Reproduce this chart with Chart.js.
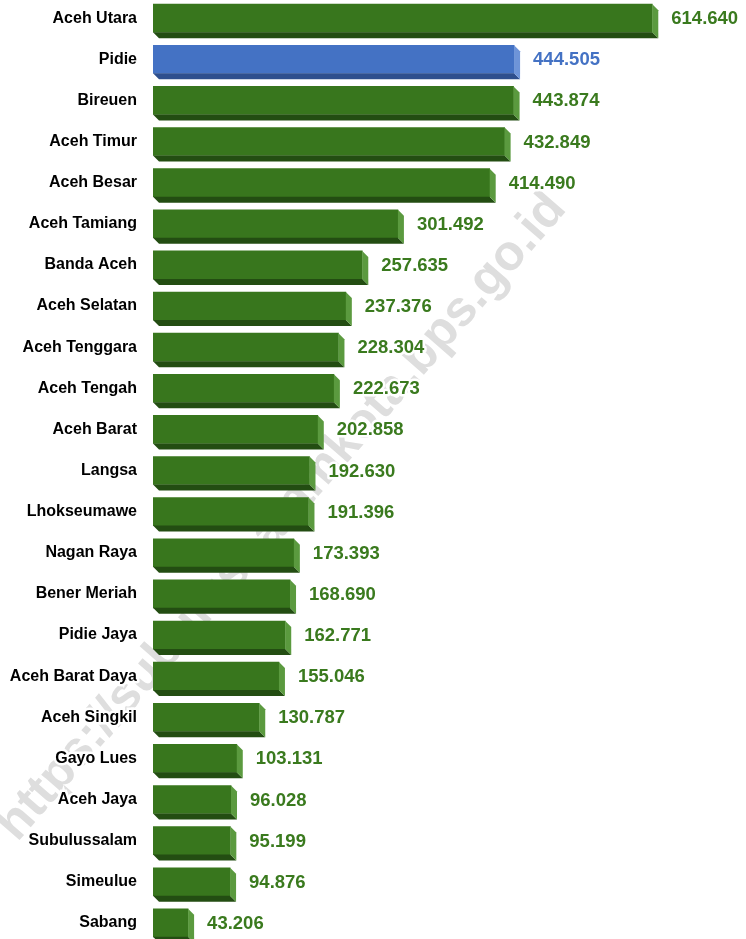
<!DOCTYPE html>
<html>
<head>
<meta charset="utf-8">
<script src="https://cdn.jsdelivr.net/npm/chart.js@4"></script>
<style>
  html, body { margin: 0; padding: 0; background: #fff; overflow: hidden; }
  #wrap { position: relative; width: 746px; height: 981px; margin-top: -20px; }
</style>
</head>
<body>
<div id="wrap"><canvas id="chart"></canvas></div>
<script>
const kabupaten = [
  'Aceh Utara', 'Pidie', 'Bireuen', 'Aceh Timur', 'Aceh Besar', 'Aceh Tamiang',
  'Banda Aceh', 'Aceh Selatan', 'Aceh Tenggara', 'Aceh Tengah', 'Aceh Barat',
  'Langsa', 'Lhokseumawe', 'Nagan Raya', 'Bener Meriah', 'Pidie Jaya',
  'Aceh Barat Daya', 'Aceh Singkil', 'Gayo Lues', 'Aceh Jaya', 'Subulussalam',
  'Simeulue', 'Sabang'
];
const penduduk = [
  614640, 444505, 443874, 432849, 414490, 301492,
  257635, 237376, 228304, 222673, 202858,
  192630, 191396, 173393, 168690, 162771,
  155046, 130787, 103131, 96028, 95199,
  94876, 43206
];
const sorotan = 'Pidie';

const hijau = { face: '#38761d', bottom: '#234d12', side: '#5b9a3f', text: '#3a7a1e' };
const biru = { face: '#4472c4', bottom: '#2e4f8e', side: '#6e94d8', text: '#4472c4' };
const warna = kabupaten.map(k => k === sorotan ? biru : hijau);

const fmt = v => v.toLocaleString('de-DE');
const DEPTH = 6;

// watermark paling belakang, sisi 3D + label nilai di depan
const bar3d = {
    id: 'bar3d',
    beforeDraw(chart) {
        const ctx = chart.ctx;
        ctx.save();
        ctx.translate(282, 537);
        ctx.rotate(-49 * Math.PI / 180);
        ctx.font = 'bold 50px "Liberation Sans", Arial, sans-serif';
        ctx.fillStyle = '#dedede';
        ctx.textAlign = 'center';
        ctx.textBaseline = 'middle';
        ctx.fillText('https://subulussalamkota.bps.go.id', 0, 0);
        ctx.restore();
    },
    afterDatasetsDraw(chart) {
        const ctx = chart.ctx;
        const meta = chart.getDatasetMeta(0);
        ctx.save();
        meta.data.forEach((el, i) => {
            const { x, y, base, height } = el.getProps(['x', 'y', 'base', 'height'], true);
            const top = y - height / 2, bot = y + height / 2;
            const c = warna[i];
            ctx.fillStyle = c.bottom;
            ctx.beginPath();
            ctx.moveTo(base, bot); ctx.lineTo(x, bot);
            ctx.lineTo(x + DEPTH, bot + DEPTH); ctx.lineTo(base + DEPTH, bot + DEPTH);
            ctx.closePath(); ctx.fill();
            ctx.fillStyle = c.side;
            ctx.beginPath();
            ctx.moveTo(x, top); ctx.lineTo(x + DEPTH, top + DEPTH);
            ctx.lineTo(x + DEPTH, bot + DEPTH); ctx.lineTo(x, bot);
            ctx.closePath(); ctx.fill();

            ctx.font = 'bold 18.5px "Liberation Sans", Arial, sans-serif';
            ctx.textAlign = 'left';
            ctx.textBaseline = 'middle';
            ctx.lineJoin = 'round';
            ctx.lineWidth = 5;
            ctx.strokeStyle = '#fff';
            ctx.strokeText(fmt(penduduk[i]), x + DEPTH + 13, y + 1);
            ctx.fillStyle = c.text;
            ctx.fillText(fmt(penduduk[i]), x + DEPTH + 13, y + 1);
        });
        ctx.restore();
    }
};

new Chart(document.getElementById('chart'), {
    type: 'bar',
    data: {
        labels: kabupaten,
        datasets: [{
            data: penduduk,
            backgroundColor: warna.map(c => c.face),
            borderWidth: 0,
            barThickness: 28
        }]
    },
    options: {
        indexAxis: 'y',
        responsive: true,
        maintainAspectRatio: false,
        animation: false,
        layout: { padding: 0 },
        plugins: { legend: { display: false }, tooltip: { enabled: false } },
        scales: {
            x: { display: false, min: 0, max: 730000 },
            y: {
                grid: { display: false },
                border: { display: false },
                ticks: {
                    autoSkip: false,
                    padding: 8,
                    color: '#000',
                    textStrokeColor: '#fff',
                    textStrokeWidth: 5,
                    font: { family: '"Liberation Sans", Arial, sans-serif', size: 16, weight: 'bold' }
                },
                afterFit(scale) { scale.width = 153; }
            }
        }
    },
    plugins: [bar3d]
});
</script>
</body>
</html>
